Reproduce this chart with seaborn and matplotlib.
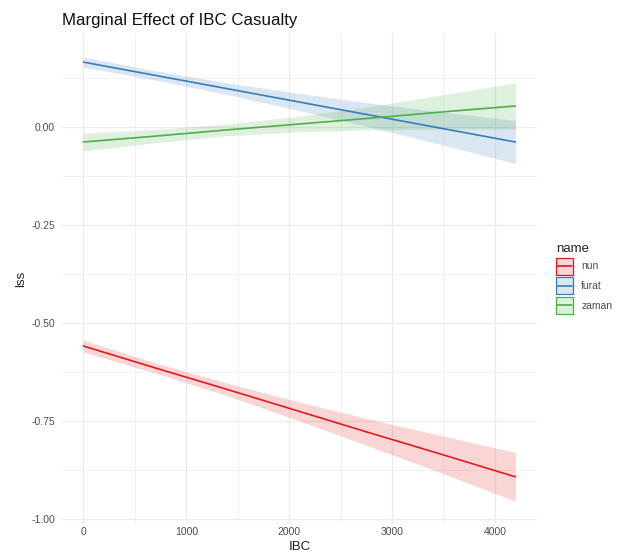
import numpy as np
import pandas as pd
import matplotlib
matplotlib.use("Agg")
import matplotlib.pyplot as plt
import seaborn as sns
from matplotlib.patches import Rectangle
from matplotlib.lines import Line2D
from matplotlib.legend_handler import HandlerBase

# ---- data ----
names = ["nun", "furat", "zaman"]
ibc = [0, 700, 1400, 2100, 2800, 3500, 4200]

nun_fit = [-0.559, -0.615, -0.670, -0.726, -0.782, -0.837, -0.893]
nun_lo = [-0.574, -0.628, -0.686, -0.750, -0.817, -0.885, -0.955]
nun_hi = [-0.544, -0.602, -0.654, -0.702, -0.747, -0.789, -0.831]

furat_fit = [0.166, 0.132, 0.098, 0.064, 0.030, -0.004, -0.038]
furat_lo = [0.153, 0.120, 0.083, 0.042, -0.001, -0.046, -0.093]
furat_hi = [0.179, 0.144, 0.113, 0.086, 0.061, 0.038, 0.017]

zaman_fit = [-0.038, -0.023, -0.007, 0.008, 0.023, 0.039, 0.054]
zaman_lo = [-0.061, -0.040, -0.022, -0.012, -0.007, -0.005, -0.005]
zaman_hi = [-0.015, -0.006, 0.008, 0.028, 0.053, 0.083, 0.113]

colors = ["#E41A1C", "#377EB8", "#4DAF4A"]

fits = [nun_fit, furat_fit, zaman_fit]
los = [nun_lo, furat_lo, zaman_lo]
his = [nun_hi, furat_hi, zaman_hi]

rows = []
for n, f, lo, hi in zip(names, fits, los, his):
    for x, y, l, h in zip(ibc, f, lo, hi):
        rows.append({"name": n, "IBC": x, "lss": y, "lo": l, "hi": h})
df = pd.DataFrame(rows)

sns.set_theme(style="white")
plt.rcParams['font.family'] = ['Liberation Sans', 'DejaVu Sans']

fig = plt.figure(figsize=(6.18, 5.52), dpi=100)
ax = fig.add_axes([0.100, 0.051, 0.769, 0.889])

for n, c in zip(names, colors):
    d = df[df.name == n]
    ax.fill_between(d.IBC, d.lo, d.hi, color=c, alpha=0.18, linewidth=0, zorder=2)

sns.lineplot(data=df, x="IBC", y="lss", hue="name", hue_order=names,
             palette=colors, ax=ax, linewidth=1.2, legend=False, zorder=3)

ax.set_xlim(-210, 4410)
ax.set_ylim(-1.013, 0.240)
ax.set_xticks([0, 1000, 2000, 3000, 4000])
ax.set_xticks([500, 1500, 2500, 3500], minor=True)
ax.set_yticks([-1.0, -0.75, -0.5, -0.25, 0.0])
ax.set_yticklabels(["-1.00", "-0.75", "-0.50", "-0.25", "0.00"])
ax.set_yticks([-0.875, -0.625, -0.375, -0.125, 0.125], minor=True)
ax.grid(True, which="major", color="#EBEBEB", linewidth=0.9, zorder=0)
ax.grid(True, which="minor", color="#EBEBEB", linewidth=0.5, zorder=0)
ax.set_axisbelow(True)
for s in ax.spines.values():
    s.set_visible(False)
ax.tick_params(axis="both", which="both", length=0, labelsize=7.5, labelcolor="#4D4D4D")
ax.tick_params(axis="x", pad=2)
ax.tick_params(axis="y", pad=5)
ax.set_xlabel("IBC", fontsize=9.5, color="#222222", labelpad=3)
ax.set_ylabel("lss", fontsize=9.5, color="#222222", labelpad=3)
ax.set_title("Marginal Effect of IBC Casualty", loc="left", fontsize=12.2,
             color="#111111", pad=6, x=0.0)


class KeyHandler(HandlerBase):
    def create_artists(self, legend, orig_handle, xdescent, ydescent,
                       width, height, fontsize, trans):
        c = orig_handle.get_color()
        x0, y0 = -xdescent, -ydescent
        r = Rectangle((x0, y0), width, height,
                      facecolor=matplotlib.colors.to_rgba(c, 0.18),
                      edgecolor=c, linewidth=0.9, transform=trans)
        ln = Line2D([x0 + 0.5, x0 + width - 0.5], [y0 + height / 2] * 2,
                    color=c, linewidth=1.2, transform=trans)
        return [r, ln]


handles = [Line2D([0], [0], color=c) for c in colors]
leg = ax.legend(handles, names, title="name", loc="center left",
                bbox_to_anchor=(1.02, 0.5), frameon=False, fontsize=7.5,
                title_fontsize=9.5, handlelength=1.63, handleheight=2.13,
                labelspacing=0.25, handletextpad=0.8, alignment="left",
                handler_map={Line2D: KeyHandler()})
for t in leg.get_texts():
    t.set_color("#4D4D4D")
leg.get_title().set_color("#222222")

fig.savefig("out.png", dpi=100)
